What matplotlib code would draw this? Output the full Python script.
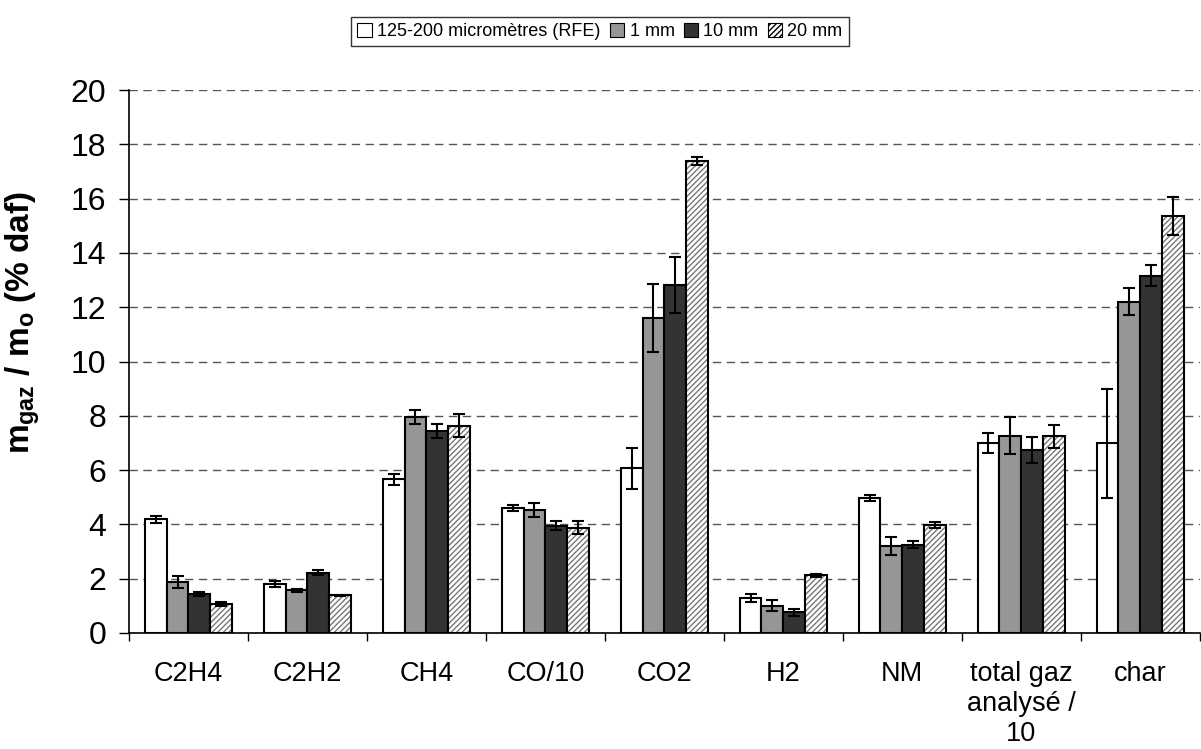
import numpy as np
import matplotlib
matplotlib.use("Agg")
from matplotlib import pyplot as plt
from matplotlib.patches import Patch

plt.rcParams["font.family"] = ["Liberation Sans", "DejaVu Sans"]
plt.rcParams["mathtext.fontset"] = "custom"
plt.rcParams["mathtext.rm"] = "Liberation Sans:bold"
plt.rcParams["mathtext.it"] = "Liberation Sans:bold"
plt.rcParams["mathtext.bf"] = "Liberation Sans:bold"
plt.rcParams["hatch.linewidth"] = 1.0

CATEGORIES = ["C2H4", "C2H2", "CH4", "CO/10", "CO2", "H2", "NM",
              "total gaz\nanalysé /\n10", "char"]
SERIES = ["125-200 micromètres (RFE)", "1 mm", "10 mm", "20 mm"]

VAL_RFE = [4.19, 1.82, 5.66, 4.60, 6.06, 1.28, 4.98, 7.00, 6.99]
VAL_1MM = [1.87, 1.57, 7.96, 4.52, 11.60, 1.01, 3.22, 7.27, 12.20]
VAL_10MM = [1.44, 2.22, 7.44, 3.95, 12.81, 0.76, 3.25, 6.75, 13.16]
VAL_20MM = [1.07, 1.39, 7.64, 3.88, 17.39, 2.12, 3.98, 7.24, 15.37]

ERR_RFE = [0.13, 0.11, 0.20, 0.11, 0.76, 0.15, 0.10, 0.38, 2.01]
ERR_1MM = [0.23, 0.05, 0.27, 0.25, 1.25, 0.20, 0.33, 0.69, 0.50]
ERR_10MM = [0.07, 0.10, 0.27, 0.17, 1.03, 0.13, 0.13, 0.48, 0.39]
ERR_20MM = [0.06, 0.02, 0.41, 0.23, 0.15, 0.04, 0.10, 0.43, 0.70]

values = [VAL_RFE, VAL_1MM, VAL_10MM, VAL_20MM]
errors = [ERR_RFE, ERR_1MM, ERR_10MM, ERR_20MM]
faces = ["white", "#969696", "#333333", "white"]
hatches = [None, None, None, "//////"]

fig = plt.figure(figsize=(12.01, 7.49), dpi=100)
ax = fig.add_axes([0.1074, 0.1549, 0.8916, 0.7249])

x = np.arange(len(CATEGORIES))
width = 0.184
offsets = (np.arange(4) - 1.5) * width

for i in range(4):
    pos = x + offsets[i]
    if hatches[i]:
        ax.bar(pos, values[i], width, color="white", edgecolor="#777777",
               hatch=hatches[i], linewidth=0, zorder=3)
        ax.bar(pos, values[i], width, fill=False, edgecolor="black",
               linewidth=1.5, zorder=4)
    else:
        ax.bar(pos, values[i], width, color=faces[i], edgecolor="black",
               linewidth=1.5, zorder=3)
    ax.errorbar(pos, values[i], yerr=errors[i], fmt="none", ecolor="black",
                elinewidth=1.5, capsize=4, capthick=1.5, zorder=5)

ax.set_xlim(-0.5, len(CATEGORIES) - 0.5)
ax.set_ylim(0, 20)
ax.set_yticks(np.arange(0, 21, 2))
ax.tick_params(axis="y", labelsize=23, length=7.5, width=1, direction="out",
               pad=9)
ax.set_xticks(x)
ax.set_xticklabels(CATEGORIES, fontsize=19.5, linespacing=1.2, va="top")
ax.tick_params(axis="x", which="major", length=0, pad=20)
ax.set_xticks(np.arange(-0.5, len(CATEGORIES), 1), minor=True)
ax.tick_params(axis="x", which="minor", length=6, width=1, direction="out")

ax.yaxis.grid(True, linestyle=(0, (6, 4)), color="#555555", linewidth=1)
ax.set_axisbelow(True)
for side in ["top", "right"]:
    ax.spines[side].set_visible(False)
for side in ["left", "bottom"]:
    ax.spines[side].set_linewidth(1.2)

ax.set_ylabel(r"$m_{gaz}$ / $m_{o}$ (% daf)", fontsize=24, fontweight="bold")
ax.yaxis.set_label_coords(-0.081, 0.571)

handles = [
    Patch(facecolor=faces[i], edgecolor="black", hatch=hatches[i], linewidth=0.8)
    for i in range(4)
]
fig.legend(handles, SERIES, loc="center", bbox_to_anchor=(0.4996, 0.958),
           ncol=4, fontsize=13, frameon=True, fancybox=False,
           edgecolor="black", handlelength=0.8, handleheight=0.8,
           handletextpad=0.3, columnspacing=0.5, borderpad=0.35,
           borderaxespad=0)

fig.savefig("out.png", dpi=100)
